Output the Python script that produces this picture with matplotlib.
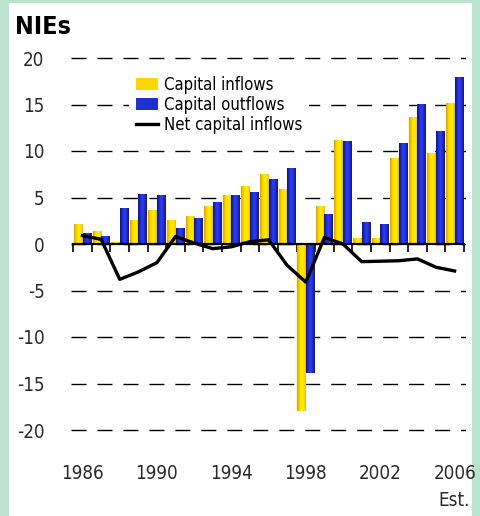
import numpy as np
import matplotlib
matplotlib.use("Agg")
import matplotlib.pyplot as plt
from matplotlib import font_manager
from matplotlib.colors import LinearSegmentedColormap
from matplotlib.patches import Rectangle
from matplotlib.lines import Line2D

years = list(range(1986, 2007))
inflows = [2.2, 1.4, 0.2, 2.6, 3.7, 2.6, 3.0, 4.05, 5.3, 6.2, 7.5, 5.9, -18.0,
           4.05, 11.2, 0.6, 0.6, 9.2, 13.7, 9.8, 15.2]
outflows = [1.2, 0.9, 3.9, 5.4, 5.3, 1.7, 2.8, 4.5, 5.3, 5.6, 7.0, 8.2, -13.9,
            3.2, 11.1, 2.4, 2.15, 10.9, 15.05, 12.1, 18.0]
net = [0.9, 0.5, -3.8, -3.0, -2.0, 0.8, 0.1, -0.5, -0.3, 0.25, 0.45, -2.3, -4.1,
       0.7, 0.0, -1.9, -1.85, -1.8, -1.6, -2.5, -2.9]
yticks = [-20, -15, -10, -5, 0, 5, 10, 15, 20]
xlabel_years = [1986, 1990, 1994, 1998, 2002, 2006]

# pick a narrow font if one is installed
fonts = font_manager.fontManager.ttflist
names = {f.name for f in fonts}
condensed = [f for f in fonts if f.name == 'DejaVu Sans' and f.stretch in
             ('condensed', 'semi-condensed', 'ultra-condensed', 'extra-condensed')]
STRETCH = 'normal'
if 'Liberation Sans Narrow' in names:
    FONT = ['Liberation Sans Narrow', 'DejaVu Sans']
elif condensed:
    FONT = ['DejaVu Sans']
    STRETCH = 'condensed'
else:
    FONT = ['Liberation Sans', 'DejaVu Sans']

W, H = 480, 516
fig = plt.figure(figsize=(W / 100, H / 100), dpi=100, facecolor='#b9e2cf')
fig.patches.append(Rectangle((9 / W, 0), (472 - 9) / W, (H - 3) / H,
                             transform=fig.transFigure, facecolor='white',
                             edgecolor='none', zorder=-1))

ax = fig.add_axes([71 / W, 1 - 439.3 / H, (466 - 71) / W, (439.3 - 48.7) / H])
ax.set_zorder(1)
ax.patch.set_alpha(0)

x = np.arange(len(years))
bw = 0.46
b1 = ax.bar(x - bw / 2, inflows, width=bw, color='#ffd800', zorder=1)
b2 = ax.bar(x + bw / 2, outflows, width=bw, color='#2030d0', zorder=1)

ycmap = LinearSegmentedColormap.from_list('yc', ['#e39a00', '#ffcc00', '#fff000', '#ffe600', '#f0bc00'])
bcmap = LinearSegmentedColormap.from_list('bc', ['#141466', '#1e2ccc', '#2a40ff', '#1e2ccc', '#161670'])
grad = np.linspace(0, 1, 64).reshape(1, -1)
for bars, cmap in ((b1, ycmap), (b2, bcmap)):
    for bar in bars:
        x0, w = bar.get_x(), bar.get_width()
        y0, h = bar.get_y(), bar.get_height()
        im = ax.imshow(grad, cmap=cmap, extent=(x0, x0 + w, min(y0, y0 + h), max(y0, y0 + h)),
                       aspect='auto', zorder=1.1, interpolation='bilinear')
        im.set_clip_path(bar)

ax.plot(x, net, color='black', lw=2.4, zorder=4, solid_joinstyle='round')

ax.set_xlim(-0.62, 20.61)
ax.set_ylim(-21, 21)

tprops = dict(fontsize=13.5, family=FONT, fontstretch=STRETCH, color='#2a2a2a')
ax.set_yticks(yticks)
ax.set_yticklabels([str(v) for v in yticks], **tprops)
ax.yaxis.grid(True, color='black', lw=1.0, linestyle=(0, (10.8, 7.9)), zorder=0)
ax.set_axisbelow(True)
ax.tick_params(axis='y', length=0, pad=19)

for s in ['left', 'right', 'top']:
    ax.spines[s].set_visible(False)
ax.spines['bottom'].set_position(('data', 0))
ax.spines['bottom'].set_linewidth(1.6)
ax.spines['bottom'].set_bounds(-0.5, 20.5)
ax.spines['bottom'].set_zorder(3)
ax.set_xticks(np.arange(len(years) + 1) - 0.5)
ax.set_xticklabels([])
ax.tick_params(axis='x', direction='out', length=6, width=1.2, color='black')

sec = ax.secondary_xaxis('bottom')
sec.spines['bottom'].set_visible(False)
sec.set_xticks([years.index(y) for y in xlabel_years])
sec.set_xticklabels([str(y) for y in xlabel_years], **tprops)
sec.tick_params(length=0, pad=18)

fig.text(15 / W, 1 - 27 / H, 'NIEs', fontsize=18, fontweight='heavy', family='DejaVu Sans',
         fontstretch='condensed', va='center', ha='left')
fig.text(470 / W, 1 - 501 / H, 'Est.', va='center', ha='right', **tprops)

handles = [Rectangle((0, 0), 1, 1, facecolor='#ffd400', edgecolor='none'),
           Rectangle((0, 0), 1, 1, facecolor='#2030d0', edgecolor='none'),
           Line2D([0], [0], color='black', lw=2.4)]
leg = ax.legend(handles, ['Capital inflows', 'Capital outflows', 'Net capital inflows'],
                loc='upper left', bbox_to_anchor=(121 / W, 1 - 61 / H),
                bbox_transform=fig.transFigure, frameon=True, fancybox=False,
                facecolor='white', edgecolor='none', framealpha=1,
                prop={'family': FONT, 'size': 12, 'stretch': STRETCH},
                handlelength=1.3, handleheight=0.75,
                handletextpad=0.4, labelspacing=0.12, borderpad=0.4)
leg.set_zorder(5)

fig.savefig('out.png', dpi=100, facecolor=fig.get_facecolor())
